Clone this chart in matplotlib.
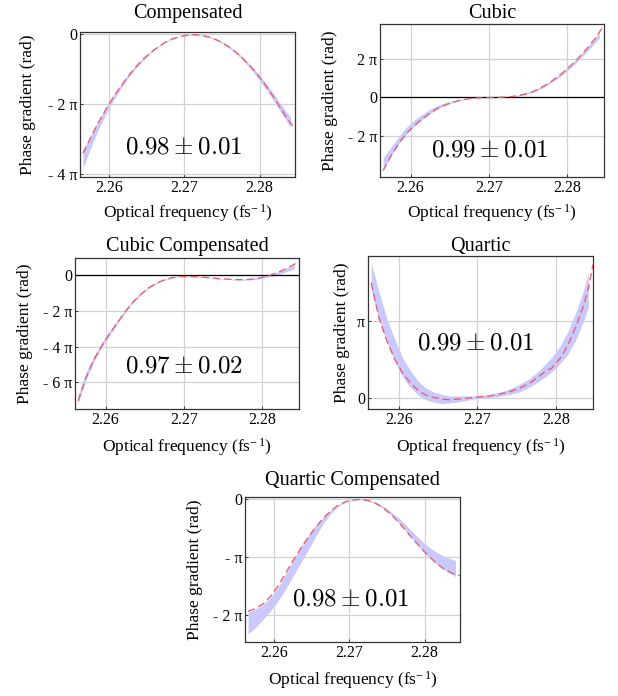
import numpy as np
import matplotlib
matplotlib.use("Agg")
import matplotlib.pyplot as plt

plt.rcParams['font.family'] = ['Liberation Serif', 'DejaVu Serif']
plt.rcParams['mathtext.fontset'] = 'custom'
plt.rcParams['mathtext.rm'] = 'Liberation Serif'
plt.rcParams['mathtext.it'] = 'Liberation Serif:italic'
plt.rcParams['mathtext.bf'] = 'Liberation Serif:bold'

nan = np.nan
# optical frequency grid (fs^-1)
freq = [2.2565, 2.2575, 2.2585, 2.2595, 2.2605, 2.2615, 2.2625, 2.2635, 2.2645, 2.2655,
        2.2665, 2.2675, 2.2685, 2.2695, 2.2705, 2.2715, 2.2725, 2.2735, 2.2745, 2.2755,
        2.2765, 2.2775, 2.2785, 2.2795, 2.2805, 2.2815, 2.2825, 2.2835, 2.2841, 2.2847]

# all phase values in units of pi
comp_fit = [-3.42, -2.98, -2.56, -2.18, -1.83, -1.51, -1.22, -0.96, -0.73, -0.54,
            -0.38, -0.24, -0.14, -0.08, -0.04, -0.03, -0.06, -0.11, -0.20, -0.32,
            -0.47, -0.65, -0.87, -1.11, -1.39, -1.70, -2.03, -2.38, -2.55, -2.72]
comp_lo = [-3.85, -3.28, -2.76, -2.32, -1.93, -1.58, -1.27, -1.00, -0.76, -0.56,
           -0.39, -0.25, -0.15, -0.08, -0.05, -0.04, -0.07, -0.13, -0.22, -0.35,
           -0.51, -0.71, -0.94, -1.20, -1.49, -1.80, -2.14, -2.48, -2.68, nan]
comp_hi = [-3.32, -2.92, -2.50, -2.12, -1.77, -1.45, -1.16, -0.91, -0.69, -0.51,
           -0.35, -0.22, -0.12, -0.06, -0.03, -0.02, -0.05, -0.10, -0.18, -0.30,
           -0.45, -0.63, -0.84, -1.07, -1.33, -1.61, -1.92, -2.22, -2.38, nan]

cubic_fit = [-3.76, -3.00, -2.36, -1.84, -1.44, -1.10, -0.80, -0.55, -0.37, -0.23,
             -0.13, -0.06, -0.02, -0.01, 0.00, 0.01, 0.03, 0.08, 0.16, 0.28,
             0.47, 0.70, 0.98, 1.30, 1.66, 2.06, 2.50, 3.00, 3.35, 3.72]
cubic_lo = [-3.72, -3.02, -2.38, -1.86, -1.46, -1.12, -0.82, -0.57, -0.39, -0.25,
            -0.14, -0.07, -0.03, -0.01, -0.01, 0.00, 0.02, 0.06, 0.13, 0.25,
            0.42, 0.64, 0.90, 1.20, 1.54, 1.92, 2.34, 2.78, 3.05, nan]
cubic_hi = [-3.10, -2.55, -2.00, -1.52, -1.16, -0.86, -0.60, -0.40, -0.26, -0.16,
            -0.08, -0.03, 0.00, 0.01, 0.01, 0.02, 0.05, 0.11, 0.20, 0.34,
            0.52, 0.76, 1.04, 1.36, 1.72, 2.12, 2.56, 3.04, 3.35, nan]

cubcomp_fit = [-7.05, -5.75, -4.75, -3.97, -3.29, -2.66, -2.04, -1.50, -1.06, -0.70,
               -0.43, -0.25, -0.13, -0.07, -0.06, -0.07, -0.10, -0.14, -0.18, -0.21,
               -0.23, -0.24, -0.22, -0.16, -0.06, 0.08, 0.26, 0.48, 0.62, 0.78]
cubcomp_lo = [-7.15, -5.85, -4.85, -4.05, -3.37, -2.73, -2.10, -1.55, -1.10, -0.74,
              -0.46, -0.27, -0.15, -0.09, -0.08, -0.09, -0.12, -0.16, -0.20, -0.23,
              -0.26, -0.27, -0.26, -0.21, -0.12, -0.02, 0.12, 0.27, 0.35, nan]
cubcomp_hi = [-6.70, -5.45, -4.52, -3.77, -3.12, -2.52, -1.92, -1.40, -0.98, -0.64,
              -0.39, -0.22, -0.11, -0.05, -0.04, -0.05, -0.08, -0.12, -0.16, -0.19,
              -0.21, -0.21, -0.18, -0.11, -0.01, 0.12, 0.29, 0.48, 0.60, nan]

quart_fit = [1.50, 1.04, 0.74, 0.50, 0.32, 0.19, 0.09, 0.03, 0.00, -0.02,
             -0.03, -0.02, -0.01, 0.00, 0.01, 0.02, 0.04, 0.06, 0.09, 0.13,
             0.18, 0.25, 0.33, 0.39, 0.51, 0.68, 0.92, 1.20, 1.42, 1.74]
quart_lo = [1.40, 1.02, 0.72, 0.47, 0.27, 0.13, 0.03, -0.03, -0.06, -0.08,
            -0.07, -0.06, -0.04, -0.02, -0.01, 0.00, 0.01, 0.03, 0.05, 0.08,
            0.13, 0.19, 0.26, 0.34, 0.44, 0.57, 0.75, 1.00, 1.18, nan]
quart_hi = [1.76, 1.38, 1.03, 0.76, 0.52, 0.35, 0.21, 0.12, 0.07, 0.04,
            0.02, 0.02, 0.02, 0.02, 0.03, 0.04, 0.06, 0.09, 0.13, 0.18,
            0.24, 0.32, 0.42, 0.53, 0.67, 0.86, 1.11, 1.40, 1.62, nan]

qcomp_fit = [-1.94, -1.89, -1.81, -1.68, -1.50, -1.28, -1.06, -0.85, -0.66, -0.48,
             -0.33, -0.20, -0.10, -0.04, -0.01, 0.00, -0.02, -0.07, -0.15, -0.26,
             -0.39, -0.54, -0.70, -0.84, -0.98, -1.10, -1.20, -1.27, -1.30, -1.32]
qcomp_lo = [-2.33, -2.22, -2.08, -1.93, -1.76, -1.55, -1.33, -1.10, -0.88, -0.64,
            -0.42, -0.25, -0.12, -0.05, -0.02, -0.01, -0.03, -0.08, -0.16, -0.27,
            -0.40, -0.55, -0.71, -0.86, -0.99, -1.11, -1.21, -1.29, -1.34, nan]
qcomp_hi = [-1.96, -1.90, -1.82, -1.70, -1.52, -1.29, -1.05, -0.83, -0.63, -0.46,
            -0.31, -0.19, -0.09, -0.03, 0.00, 0.00, -0.01, -0.05, -0.12, -0.21,
            -0.32, -0.44, -0.58, -0.71, -0.82, -0.91, -0.98, -1.03, -1.06, nan]

titles = ["Compensated", "Cubic", "Cubic Compensated", "Quartic", "Quartic Compensated"]
scores = [r"$0.98 \pm 0.01$", r"$0.99 \pm 0.01$", r"$0.97 \pm 0.02$",
          r"$0.99 \pm 0.01$", r"$0.98 \pm 0.01$"]
fits = [comp_fit, cubic_fit, cubcomp_fit, quart_fit, qcomp_fit]
lows = [comp_lo, cubic_lo, cubcomp_lo, quart_lo, qcomp_lo]
highs = [comp_hi, cubic_hi, cubcomp_hi, quart_hi, qcomp_hi]

xticks = [2.26, 2.27, 2.28]
xticklabels = ["2.26", "2.27", "2.28"]
yticks = [[0, -2, -4], [-2, 0, 2], [0, -2, -4, -6], [0, 1], [0, -1, -2]]
yticklabels = [["0", "- 2 π", "- 4 π"], ["- 2 π", "0", "2 π"],
               ["0", "- 2 π", "- 4 π", "- 6 π"], ["0", "π"], ["0", "- π", "- 2 π"]]
ylims = [(-4.1, 0.046), (-4.09, 3.78), (-7.5, 0.975), (-0.15, 1.85), (-2.47, 0.04)]

W, H = 618, 696
# pixel boxes: left, right, top, bottom
boxes = [(80, 295, 32, 177), (380, 604, 24, 177), (75, 299, 258, 409),
         (368, 593, 256, 409), (245, 460, 497, 642)]
title_y = [1.097, 1.039, 1.046, 1.033, 1.083]
score_pos = [(0.48, 0.20), (0.487, 0.176), (0.487, 0.28), (0.476, 0.43), (0.49, 0.29)]
ylabel_x = [-0.242, -0.223, -0.223, -0.116, -0.233]
xlabel_y = [-0.248, -0.235, -0.25, -0.248, -0.262]
zero_line = [False, True, True, False, False]

fig = plt.figure(figsize=(W / 100, H / 100), dpi=100)

for i in range(5):
    l, r, t, b = boxes[i]
    ax = fig.add_axes([l / W, 1 - b / H, (r - l) / W, (b - t) / H])
    x = np.array(freq)
    ax.fill_between(x, np.array(lows[i]) * np.pi, np.array(highs[i]) * np.pi,
                    color='#c9c9fb', lw=0, zorder=2)
    ax.plot(x, np.array(fits[i]) * np.pi, color='#ea5d6a', lw=0.95,
            dashes=(5.5, 3), zorder=3)
    if zero_line[i]:
        ax.axhline(0, color='black', lw=0.9, zorder=2.5)
    ax.set_xlim(2.2561, 2.2847)
    ax.set_ylim(ylims[i][0] * np.pi, ylims[i][1] * np.pi)
    ax.set_xticks(xticks)
    ax.set_xticklabels(xticklabels)
    ax.set_yticks(np.array(yticks[i]) * np.pi)
    ax.set_yticklabels(yticklabels[i])
    ax.grid(True, color='#d2d2d2', lw=0.9, zorder=1)
    ax.set_axisbelow(True)
    for s in ax.spines.values():
        s.set_color('#333333')
        s.set_linewidth(0.9)
    ax.tick_params(direction='in', length=2.5, width=0.6, labelsize=11.5,
                   pad=2, colors='#222222', labelcolor='black')
    ax.set_title(titles[i], fontsize=14.5, y=title_y[i], pad=0, va='baseline')
    ax.set_xlabel("Optical frequency (fs$^{-\\,1}$)", fontsize=12.5, va='center')
    ax.set_ylabel("Phase gradient (rad)", fontsize=12.5, va='center')
    ax.xaxis.set_label_coords(0.5, xlabel_y[i])
    ax.yaxis.set_label_coords(ylabel_x[i], 0.5)
    ax.text(score_pos[i][0], score_pos[i][1], scores[i], transform=ax.transAxes,
            ha='center', va='center', fontsize=18, math_fontfamily='cm', zorder=5)

fig.savefig("out.png", dpi=100)
